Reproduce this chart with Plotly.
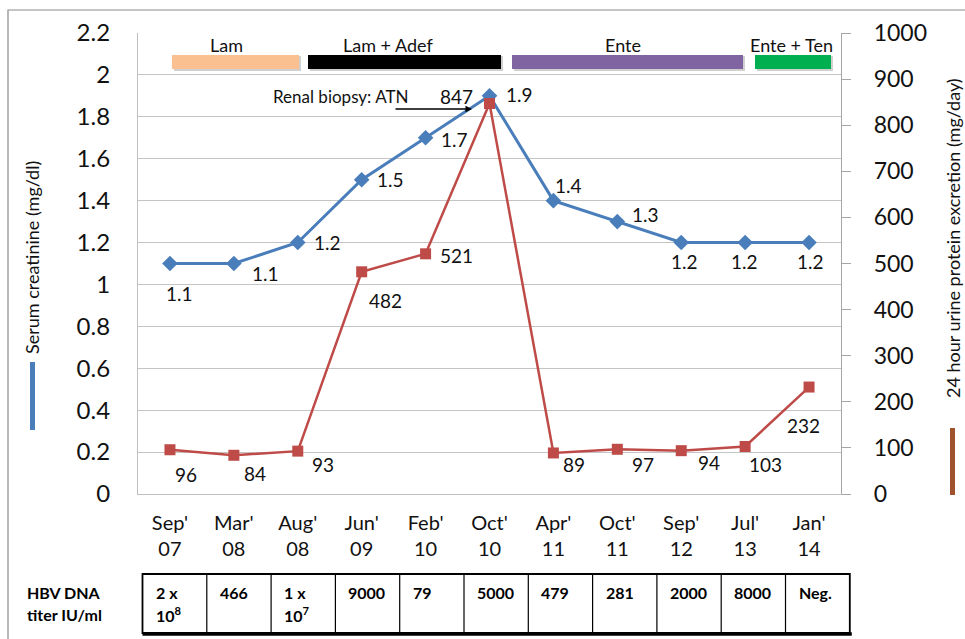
import plotly.graph_objects as go

# ---------------- data ----------------
dates = ["Sep'07", "Mar'08", "Aug'08", "Jun'09", "Feb'10", "Oct'10",
         "Apr'11", "Oct'11", "Sep'12", "Jul'13", "Jan'14"]
creatinine = [1.1, 1.1, 1.2, 1.5, 1.7, 1.9, 1.4, 1.3, 1.2, 1.2, 1.2]
protein = [96, 84, 93, 482, 521, 847, 89, 97, 94, 103, 232]
hbv_dna = [["2 x", "10<sup>8</sup>"], ["466", ""], ["1 x", "10<sup>7</sup>"],
           ["9000", ""], ["79", ""], ["5000", ""], ["479", ""], ["281", ""],
           ["2000", ""], ["8000", ""], ["Neg.", ""]]
treatments = ["Lam", "Lam + Adef", "Ente", "Ente + Ten"]
tick_text = [d.replace("'", "'<br>") for d in dates]

# ---------------- styles ----------------
FONT = "Lato, 'Open Sans', sans-serif"
BLUE = "#4A7EBB"
RED = "#BE4B48"
W_FIG, H_FIG = 965, 639
L, R, T, B = 138, 124, 33, 145
PW, PH = W_FIG - L - R, H_FIG - T - B


def px(x):
    return (x - L) / PW


def py(y):
    return (T + PH - y) / PH


def txt(x, y, text, size, color="#111", xanchor="center", **kw):
    return dict(x=px(x), y=py(y), xref="paper", yref="paper", text=text,
                showarrow=False, xanchor=xanchor, yanchor="middle",
                font=dict(family=FONT, size=size, color=color), **kw)


# label pixel offsets (dx right, dy down)
cre_off = [(10, 30), (32, 10), (30, 0), (29, 0), (29, 2), (30, -1),
           (15, -15), (28, -7), (3, 19), (-1, 19), (1, 19)]
pro_off = [(16, 25), (21, 18), (25, 13), (24, 29), (31, 2), (-33, -7),
           (21, 12), (26, 15), (28, 12), (20, 18), (-6, 38)]

treat_spans = [(172, 299), (308, 501), (512, 743), (755, 831)]
treat_colors = ["#FAC090", "#000000", "#8064A2", "#00B050"]
treat_label_x = [226, 388, 623, 791]

fig = go.Figure()
fig.add_trace(go.Scatter(
    x=dates, y=creatinine, mode="lines+markers", yaxis="y",
    line=dict(color=BLUE, width=3),
    marker=dict(symbol="diamond", size=12, color=BLUE),
    showlegend=False, cliponaxis=False))
fig.add_trace(go.Scatter(
    x=dates, y=protein, mode="lines+markers", yaxis="y2",
    line=dict(color=RED, width=2.5),
    marker=dict(symbol="square", size=11, color=RED),
    showlegend=False, cliponaxis=False))

annotations = []
for d, v, (dx, dy) in zip(dates, creatinine, cre_off):
    annotations.append(dict(x=d, y=v, xref="x", yref="y", text=f"{v:g}",
                            showarrow=False, xshift=dx, yshift=-dy,
                            xanchor="center", yanchor="middle",
                            font=dict(family=FONT, size=19, color="#111")))
for d, v, (dx, dy) in zip(dates, protein, pro_off):
    annotations.append(dict(x=d, y=v, xref="x", yref="y2", text=f"{v}",
                            showarrow=False, xshift=dx, yshift=-dy,
                            xanchor="center", yanchor="middle",
                            font=dict(family=FONT, size=19, color="#111")))

shapes = []
# outer frame
shapes.append(dict(type="rect", xref="paper", yref="paper",
                   x0=px(8), x1=px(1010), y0=py(10), y1=py(700),
                   line=dict(color="#8C8C8C", width=1.2)))
# treatment bars
for (a, b), c, name, lx in zip(treat_spans, treat_colors, treatments, treat_label_x):
    shapes.append(dict(type="rect", xref="paper", yref="paper",
                       x0=px(a + 2), x1=px(b + 2), y0=py(56), y1=py(71),
                       line=dict(width=0), fillcolor="rgba(120,120,120,0.35)"))
    shapes.append(dict(type="rect", xref="paper", yref="paper",
                       x0=px(a), x1=px(b), y0=py(55), y1=py(69),
                       line=dict(width=0), fillcolor=c))
    annotations.append(txt(lx, 45, name, 18))

# renal biopsy annotation
annotations.append(txt(340, 96, "Renal biopsy: ATN", 17))
annotations.append(dict(x=px(472), y=py(109), xref="paper", yref="paper",
                        text="", showarrow=True, ax=-78, ay=0,
                        arrowhead=2, arrowsize=1, arrowwidth=1.3,
                        arrowcolor="#000"))

# axis titles + colour keys
annotations.append(txt(32, 258, "Serum creatinine (mg/dl)", 18, textangle=-90))
shapes.append(dict(type="rect", xref="paper", yref="paper",
                   x0=px(30), x1=px(35), y0=py(362), y1=py(430),
                   line=dict(width=0), fillcolor=BLUE))
annotations.append(txt(953, 238, "24 hour urine protein excretion (mg/day)", 18,
                       textangle=-90))
shapes.append(dict(type="rect", xref="paper", yref="paper",
                   x0=px(950), x1=px(955), y0=py(428), y1=py(495),
                   line=dict(width=0), fillcolor="#A0522D"))

# HBV DNA table
tbl_left, col_w, tbl_top, tbl_bot = 142.5, 64.3, 574, 633
n = len(hbv_dna)
shapes.append(dict(type="rect", xref="paper", yref="paper",
                   x0=px(tbl_left), x1=px(tbl_left + n * col_w),
                   y0=py(tbl_top), y1=py(tbl_bot),
                   line=dict(color="#000", width=1.8)))
shapes.append(dict(type="line", xref="paper", yref="paper",
                   x0=px(tbl_left), x1=px(tbl_left + n * col_w + 2),
                   y0=py(tbl_bot + 1), y1=py(tbl_bot + 1),
                   line=dict(color="#000", width=3.5)))
for i in range(1, n):
    xe = tbl_left + i * col_w
    shapes.append(dict(type="line", xref="paper", yref="paper",
                       x0=px(xe), x1=px(xe), y0=py(tbl_top), y1=py(tbl_bot),
                       line=dict(color="#000", width=1.2)))
for i, (l1, l2) in enumerate(hbv_dna):
    xl = tbl_left + i * col_w + 11
    annotations.append(txt(xl, 592, f"<b>{l1}</b>", 16, "#000", xanchor="left"))
    if l2:
        annotations.append(txt(xl, 614, f"<b>{l2}</b>", 16, "#000", xanchor="left"))
annotations.append(txt(25, 592, "<b>HBV DNA</b>", 16, "#000", xanchor="left"))
annotations.append(txt(25, 614, "<b>titer IU/ml</b>", 16, "#000", xanchor="left"))

fig.update_layout(
    width=W_FIG, height=H_FIG,
    margin=dict(l=L, r=R, t=T, b=B, pad=0),
    paper_bgcolor="white", plot_bgcolor="white",
    font=dict(family=FONT, color="#111"),
    xaxis=dict(type="category", categoryorder="array", categoryarray=dates,
               tickvals=dates, ticktext=tick_text, range=[-0.5, len(dates) - 0.5],
               showgrid=False, showline=True, linecolor="#BFBFBF", linewidth=1.2,
               ticks="", tickfont=dict(family=FONT, size=20, color="#111"),
               ticklabelstandoff=11, zeroline=False),
    yaxis=dict(range=[0, 2.2], dtick=0.2, showgrid=True, gridcolor="#C4C4C4",
               gridwidth=1.2, showline=True, linecolor="#BFBFBF", linewidth=1.2,
               ticks="", tickfont=dict(family=FONT, size=24, color="#111"),
               ticklabelstandoff=22, zeroline=False),
    yaxis2=dict(range=[0, 1000], dtick=100, overlaying="y", side="right",
                showgrid=False, showline=True, linecolor="#A6A6A6", linewidth=1.2,
                ticks="outside", ticklen=9, tickcolor="#A6A6A6", tickwidth=1.2,
                tickfont=dict(family=FONT, size=23, color="#111"),
                ticklabelstandoff=18, zeroline=False),
    shapes=shapes, annotations=annotations, showlegend=False,
)

fig.write_html("out.html", config={"displayModeBar": False},
               post_script="document.body.style.margin='0';document.body.style.padding='0';")
